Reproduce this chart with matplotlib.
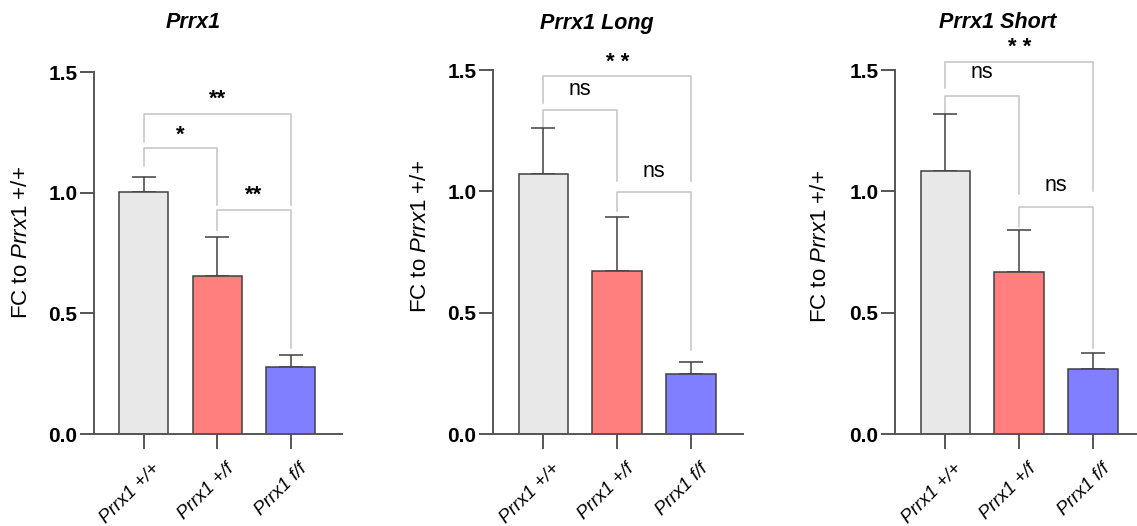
import matplotlib.pyplot as plt
import matplotlib.transforms as mtransforms

plt.rcParams['font.family'] = ['Liberation Sans', 'DejaVu Sans']
plt.rcParams['mathtext.fontset'] = 'custom'
plt.rcParams['mathtext.rm'] = 'Liberation Sans'
plt.rcParams['mathtext.it'] = 'Liberation Sans:italic'

groups = ['Prrx1 +/+', 'Prrx1 +/f', 'Prrx1 f/f']
colors = ['#e8e8e8', '#ff7f7f', '#7f7fff']
titles = ['Prrx1', 'Prrx1 Long', 'Prrx1 Short']

# mean fold change and upper error per group
mean_total = [1.004, 0.656, 0.278]
err_total = [0.062, 0.161, 0.050]
mean_long = [1.070, 0.673, 0.247]
err_long = [0.192, 0.221, 0.051]
mean_short = [1.085, 0.666, 0.266]
err_short = [0.232, 0.176, 0.066]

# brackets: (from, to, y, left leg end, right leg end, label, label y)
stats_total = [(0, 1, 1.187, 1.112, 0.950, '*', 1.240),
               (1, 2, 0.929, 0.846, 0.357, '**', 0.988),
               (0, 2, 1.328, 1.212, 0.950, '**', 1.386)]
stats_long = [(0, 1, 1.335, 1.262, 1.042, 'ns', 1.420),
              (1, 2, 0.996, 0.920, 0.346, 'ns', 1.083),
              (0, 2, 1.475, 1.363, 1.042, '* *', 1.530)]
stats_short = [(0, 1, 1.393, 1.317, 0.990, 'ns', 1.490),
               (1, 2, 0.934, 0.854, 0.354, 'ns', 1.023),
               (0, 2, 1.534, 1.424, 1.002, '* *', 1.592)]

W, H = 1137, 526
fig = plt.figure(figsize=(W / 100, H / 100), dpi=100)

# axes boxes in pixels: left, top(1.5), right, bottom(0)
boxes = [(94, 72, 342, 434), (493, 70, 743, 434), (895, 70, 1145, 434)]
title_pos = [(193, 23), (597, 23), (998, 22)]
ylabel_pos = [(22, 243), (421, 237), (821, 247)]

panels = [(mean_total, err_total, stats_total),
          (mean_long, err_long, stats_long),
          (mean_short, err_short, stats_short)]

axis_col = '#555555'
edge_col = '#404040'
bracket_col = '#c4c4c4'

for k, (means, errs, stats) in enumerate(panels):
    l, t, r, b = boxes[k]
    ax = fig.add_axes([l / W, 1 - b / H, (r - l) / W, (b - t) / H])
    x = list(range(len(groups)))
    ax.bar(x, means, width=0.67, color=colors, edgecolor=edge_col,
           linewidth=1.1, zorder=2)
    ax.errorbar(x, means, yerr=[[0] * 3, errs], fmt='none',
                ecolor=edge_col, elinewidth=1.1, capsize=8.5,
                capthick=1.1, zorder=1)
    ax.set_xlim(-0.68, 2.70)
    ax.set_ylim(0, 1.5)
    for side in ['top', 'right']:
        ax.spines[side].set_visible(False)
    for side in ['left', 'bottom']:
        ax.spines[side].set_color(axis_col)
        ax.spines[side].set_linewidth(1.4)
    ax.tick_params(axis='y', length=10, width=1.4, color=axis_col, pad=2)
    ax.tick_params(axis='x', length=11, width=1.4, color=axis_col, pad=8)
    ax.set_yticks([0, 0.5, 1.0, 1.5])
    ax.set_yticklabels(['0.0', '0.5', '1.0', '1.5'], fontsize=15,
                       fontweight='bold')
    ax.set_xticks(x)
    ax.set_xticklabels(groups, rotation=45, ha='right', va='top',
                       rotation_mode='anchor', fontsize=13.5, style='italic')
    shift = mtransforms.ScaledTranslation(8 / 100, 0, fig.dpi_scale_trans)
    for lab in ax.get_xticklabels():
        lab.set_transform(lab.get_transform() + shift)

    for i, j, y, lb, rb, lab, ly in stats:
        ax.plot([i, i, j, j], [lb, y, y, rb], color=bracket_col, lw=1.1,
                clip_on=False, zorder=0)
        if 'ns' in lab:
            ax.text((i + j) / 2, ly, lab, ha='center', va='center',
                    fontsize=15.5, clip_on=False)
        else:
            ax.text((i + j) / 2, ly, lab, ha='center', va='center',
                    fontsize=16, fontweight='bold', clip_on=False)

    tx, ty = title_pos[k]
    fig.text(tx / W, 1 - ty / H, titles[k], ha='center', va='center',
             fontsize=15.5, fontweight='bold', style='italic')
    yx, yy = ylabel_pos[k]
    fig.text(yx / W, 1 - yy / H, r'FC to $\mathit{Prrx1}$ +/+',
             rotation=90, ha='center', va='center', fontsize=16)

fig.savefig('out.png', dpi=100)
